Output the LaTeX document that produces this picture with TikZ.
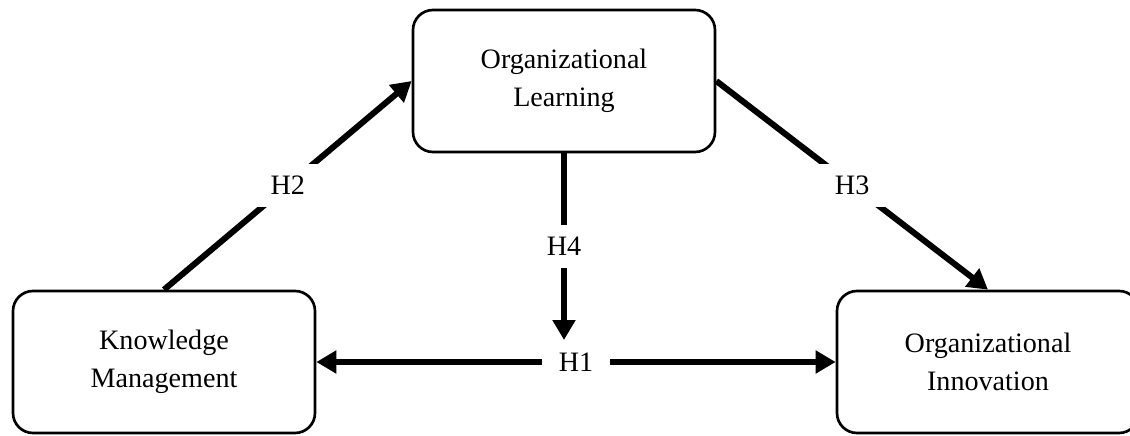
\documentclass[tikz,border=0pt]{standalone}
\usepackage{fontspec}
\setmainfont{Liberation Serif}
\usepackage{tikz}
\usetikzlibrary{shapes,arrows.meta}

\begin{document}
\begin{tikzpicture}[node distance=2cm,
    block/.style={rectangle, draw, line width=1.9pt, fill=white, minimum width=7.55cm, minimum height=3.55cm, align=center, rounded corners=0.5cm, font=\fontsize{20}{27}\selectfont},
    line/.style={draw, line width=4.3pt, -{Triangle[length=0.5cm, width=0.55cm]}},
    hyp/.style={fill=white, inner xsep=0.42cm, inner ysep=0.3cm, font=\fontsize{20}{24}\selectfont}]

    \useasboundingbox (0,0) rectangle (28.25,-10.875);

    % Nodes
    \node [block] at (4.1,-9.05) (km) {Knowledge\\Management};
    \node [block, right of=km, node distance=20.6cm] (oi) {Organizational\\Innovation};
    \node [block] at (14.1,-2.025) (ol) {Organizational\\Learning};
    \coordinate (h4end) at (14.1,-8.5);

    % Paths
    \path [line] (km.north) -- node [hyp] {H2} (ol.west);
    \path [line] (ol.east) -- node [hyp] {H3} (oi.north);
    \path [line] (ol.south) -- node [hyp] {H4} (h4end);
    \path [line, {Triangle[length=0.5cm, width=0.55cm]}-{Triangle[length=0.5cm, width=0.55cm]}] (km.east) -- node [hyp] {H1} (oi.west);

\end{tikzpicture}
\end{document}
